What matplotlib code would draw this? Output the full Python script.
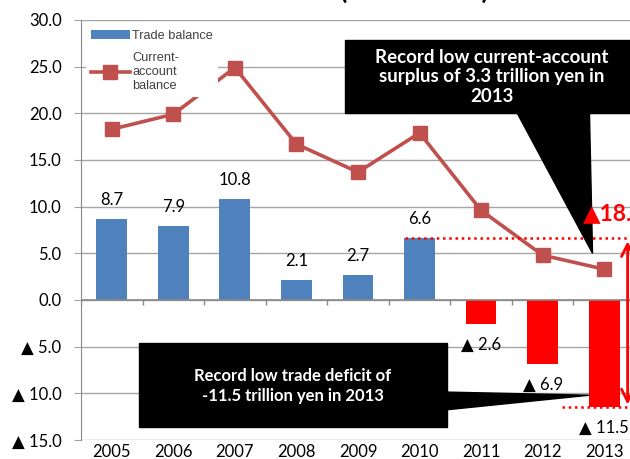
import matplotlib
matplotlib.use("Agg")
import matplotlib.pyplot as plt
from matplotlib.patches import Polygon, Rectangle
import numpy as np

plt.rcParams['font.family'] = ['Lato', 'DejaVu Sans']

years = ["2005", "2006", "2007", "2008", "2009", "2010", "2011", "2012", "2013"]
trade_balance = [8.7, 7.9, 10.8, 2.1, 2.7, 6.6, -2.6, -6.9, -11.5]
current_account = [18.3, 19.9, 24.9, 16.7, 13.7, 17.9, 9.6, 4.8, 3.3]
y_ticks = [30, 25, 20, 15, 10, 5, 0, -5, -10, -15]

blue = "#4F81BD"
line_red = "#C0504D"
grid_col = "#A6A6A6"

def fmt(v):
    return f"{v:.1f}" if v >= 0 else f"▲ {abs(v):.1f}"

fig = plt.figure(figsize=(6.3, 4.59), dpi=100)
ax = fig.add_axes([81 / 630, 19 / 459, 554 / 630, 420 / 459])

x = np.arange(len(years))
colors = [blue if v >= 0 else "#FF0000" for v in trade_balance]
bars = ax.bar(x, trade_balance, width=0.5, color=colors, zorder=3)
line, = ax.plot(x, current_account, color=line_red, lw=2.6, marker="s", ms=9.5, zorder=4)

for xi, v in zip(x, trade_balance):
    if v >= 0:
        ax.annotate(fmt(v), (xi, v), xytext=(0, 8), textcoords="offset points",
                    ha="center", va="bottom", fontsize=12)
    else:
        ax.annotate(fmt(v), (xi, v), xytext=(0, -9), textcoords="offset points",
                    ha="center", va="top", fontsize=12)

ax.set_ylim(-15, 30)
ax.set_xlim(-0.5, len(years) - 0.5)
ax.set_yticks(y_ticks)
ax.set_yticklabels([fmt(v) for v in y_ticks], fontsize=12)
ax.set_xticks(x)
ax.set_xticklabels(years, fontsize=12)
ax.tick_params(axis="x", length=0, pad=3)
ax.tick_params(axis="y", length=5, color=grid_col, pad=9)
ax.grid(axis="y", color=grid_col, lw=1, zorder=0)
for s in ["top", "right", "bottom"]:
    ax.spines[s].set_visible(False)
ax.spines["left"].set_color("#888888")

# zero line with category separators
ax.axhline(0, color="#888888", lw=1.2, zorder=3)
ax.vlines(np.arange(len(years) + 1) - 0.5, -0.55, 0, color="#888888", lw=1, zorder=3)

leg = ax.legend([bars, line], ["Trade balance", "Current-\naccount\nbalance"],
                loc="upper left", bbox_to_anchor=(0.0, 1.0), frameon=True,
                fontsize=9.2, handlelength=3.0, labelspacing=0.8,
                borderaxespad=0.4, handletextpad=0.2)
leg.get_frame().set_edgecolor("none")
leg.get_frame().set_facecolor("white")
leg.get_frame().set_alpha(1)
for t in leg.get_texts():
    t.set_family("Liberation Sans")
    t.set_color("#404040")
leg.set_zorder(5)

# red dotted guides and arrow
ax.hlines(trade_balance[5], 4.76, 9, color="red", lw=1.8, ls=(0, (1, 1.5)), zorder=5)
ax.hlines(trade_balance[8], 7.32, 9, color="red", lw=1.8, ls=(0, (1, 1.5)), zorder=5)
ax.annotate("", xy=(8.38, trade_balance[5]), xytext=(8.38, trade_balance[8]),
            arrowprops=dict(arrowstyle="<->", color="red", lw=2, mutation_scale=22),
            zorder=6)

# callout: current account
ax.add_patch(Rectangle((3.79, 20.04), 6, 7.82, color="black", zorder=7, clip_on=False))
ax.add_patch(Polygon([(6.58, 20.1), (7.76, 20.1), (7.81, 5.0)], closed=True,
                     color="black", zorder=7))
ax.text(6.17, 23.9, "Record low current-account\nsurplus of 3.3 trillion yen in\n2013",
        color="white", fontsize=13.5, fontweight="bold", ha="center", va="center",
        linespacing=1.2, zorder=8)

ax.text(7.66, 9.3, "▲18.1", color="red", fontsize=16.5, fontweight="bold",
        ha="left", va="center", zorder=9)

# callout: trade deficit
ax.add_patch(Rectangle((0.44, -13.6), 5.0, 9.0, color="black", zorder=7))
ax.add_patch(Polygon([(5.4, -9.86), (5.4, -11.79), (7.76, -10.2)], closed=True,
                     color="black", zorder=7))
ax.text(2.94, -9.2, "Record low trade deficit of\n-11.5 trillion yen in 2013",
        color="white", fontsize=12, fontweight="bold", ha="center", va="center",
        linespacing=1.3, zorder=8)

fig.text(414 / 630, 1 + 1 / 459, "(Trillion Yen)", fontsize=19, fontweight="bold",
         ha="center", va="baseline")

fig.savefig("out.png", dpi=100)
